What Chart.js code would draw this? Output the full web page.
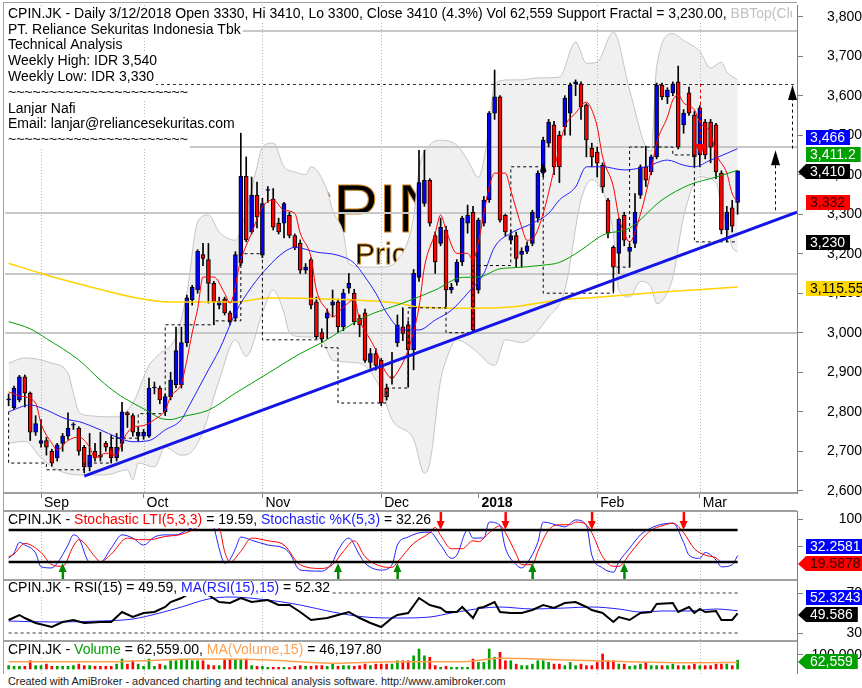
<!DOCTYPE html>
<html>
<head>
<meta charset="utf-8">
<title>CPIN.JK Daily</title>
<script src="https://cdn.jsdelivr.net/npm/chart.js@4.4.1/dist/chart.umd.min.js"></script>
<style>
  html, body { margin: 0; padding: 0; background: #fff; }
  #wrap { position: relative; width: 862px; height: 688px; overflow: hidden; background: #fff; }
  #wrap canvas { position: absolute; left: 0; }
  #foot { position: absolute; left: 8px; top: 675px; font: 10.9px "Liberation Sans", Arial, sans-serif; color: #222; white-space: nowrap; }
</style>
</head>
<body>
<div id="wrap">
  <canvas id="cMain" width="862" height="510" style="top:0;width:862px;height:510px"></canvas>
  <canvas id="cSto" width="862" height="69" style="top:510px;width:862px;height:69px"></canvas>
  <canvas id="cRsi" width="862" height="61" style="top:579px;width:862px;height:61px"></canvas>
  <canvas id="cVol" width="862" height="34" style="top:640px;width:862px;height:34px"></canvas>
  <div id="foot">Created with AmiBroker - advanced charting and technical analysis software. http://www.amibroker.com</div>
</div>
<script>
const FONT = '"Liberation Sans", Arial, sans-serif';
Chart.defaults.font.family = FONT;

// daily bars, 24 Aug 2017 .. 12 Mar 2018 (bar index 0..135)
const opens = [
  2830,2810,2830,2888,2847,2748,2720,2727,2700,2683,
  2720,2738,2766,2758,2710,2660,2700,2690,2720,2710,
  2683,2720,2798,2790,2738,2738,2738,2860,2860,2800,
  2838,2868,2868,2975,3083,3108,3198,3185,3125,3070,
  3085,3050,3037,3176,3396,3255,3348,3196,3360,3338,
  3277,3277,3297,3246,3226,3158,3185,3078,3000,3037,
  3070,3078,3015,3113,3100,3037,3050,2925,2947,2930,
  2860,2885,2975,3015,3020,2957,3140,3327,3386,3246,
  3226,3260,3108,3128,3179,3277,3305,3108,3277,3336,
  3556,3597,3297,3234,3246,3198,3206,3226,3290,3404,
  3480,3526,3500,3521,3556,3630,3630,3577,3467,3457,
  3424,3336,3216,3201,3297,3206,3226,3348,3420,3407,
  3445,3627,3597,3607,3635,3526,3607,3551,3450,3533,
  3533,3526,3404,3260,3316,3330];
const highs = [
  2845,2865,2892,2893,2850,2790,2780,2735,2705,2720,
  2745,2797,2772,2762,2715,2745,2720,2748,2725,2740,
  2745,2824,2800,2795,2760,2755,2885,2875,2865,2845,
  2900,3014,3014,3095,3120,3210,3226,3226,3130,3090,
  3090,3055,3205,3505,3445,3394,3381,3340,3370,3365,
  3290,3330,3305,3250,3235,3175,3190,3090,3010,3060,
  3108,3085,3110,3150,3110,3045,3060,2960,2960,2935,
  2870,2950,3045,3063,3030,3160,3462,3462,3390,3255,
  3290,3270,3125,3185,3295,3323,3320,3290,3345,3560,
  3665,3600,3300,3260,3255,3215,3230,3310,3410,3495,
  3540,3535,3510,3600,3632,3640,3635,3580,3480,3470,
  3430,3340,3220,3290,3305,3225,3352,3425,3472,3450,
  3632,3632,3620,3635,3675,3565,3622,3560,3575,3540,
  3540,3530,3410,3320,3335,3410];
const lows = [
  2815,2805,2825,2812,2727,2740,2710,2690,2662,2675,
  2700,2730,2755,2690,2645,2650,2675,2675,2700,2670,
  2675,2700,2760,2738,2725,2730,2735,2845,2820,2790,
  2830,2860,2860,2965,3070,3100,3170,3075,3020,3060,
  3045,3020,3030,3170,3230,3250,3265,3190,3330,3260,
  3250,3240,3240,3210,3150,3150,3060,2985,2975,2985,
  3040,3000,3005,3100,3020,2990,2925,2910,2905,2815,
  2830,2870,2965,2980,2862,2906,3130,3320,3270,3150,
  3220,3065,3100,3120,3170,3252,3000,3100,3270,3330,
  3540,3280,3245,3225,3166,3166,3200,3220,3280,3395,
  3470,3400,3380,3500,3500,3600,3540,3445,3420,3394,
  3355,3240,3105,3150,3220,3166,3215,3340,3370,3400,
  3440,3590,3580,3600,3465,3505,3550,3420,3420,3440,
  3430,3390,3250,3230,3255,3300];
const closes = [
  2832,2860,2888,2847,2748,2770,2727,2710,2670,2716,
  2738,2758,2768,2700,2660,2690,2683,2685,2710,2683,
  2710,2800,2792,2748,2748,2748,2860,2862,2830,2838,
  2880,2955,2975,3088,3115,3206,3188,3125,3078,3080,
  3050,3027,3198,3396,3235,3348,3293,3327,3362,3267,
  3255,3327,3246,3216,3158,3166,3070,2990,2985,3050,
  3078,3015,3100,3125,3027,3020,2930,2947,2917,2822,
  2838,2888,3020,2998,2957,3150,3380,3386,3277,3179,
  3267,3108,3115,3179,3290,3297,3007,3285,3336,3556,
  3597,3285,3255,3246,3188,3206,3220,3305,3404,3487,
  3533,3420,3420,3594,3627,3635,3572,3488,3445,3429,
  3369,3252,3166,3287,3234,3216,3305,3420,3386,3445,
  3627,3597,3614,3630,3470,3556,3556,3445,3569,3450,
  3470,3407,3260,3305,3270,3410];
const volumes = [
  24000,19000,19000,19000,59000,24000,24000,35000,19000,19000,
  19000,19000,24000,35000,24000,24000,19000,19000,19000,19000,
  35000,71000,35000,59000,35000,19000,71000,19000,35000,24000,
  59000,59000,71000,71000,59000,59000,59000,29000,24000,24000,
  71000,71000,71000,71000,71000,24000,19000,19000,12000,12000,
  12000,12000,10000,19000,24000,19000,19000,24000,24000,19000,
  35000,19000,24000,24000,19000,24000,35000,24000,35000,35000,
  35000,35000,59000,59000,59000,94000,143000,94000,84000,24000,
  12000,19000,12000,12000,12000,12000,71000,47000,47000,143000,
  84000,119000,59000,59000,35000,24000,24000,35000,59000,59000,
  47000,35000,35000,24000,47000,24000,35000,24000,24000,47000,
  107000,59000,59000,35000,35000,19000,24000,35000,47000,24000,
  24000,24000,24000,35000,24000,24000,24000,35000,24000,24000,
  24000,35000,35000,35000,24000,62559];

// month ticks (bar index of first trading day)
const tickIdx = [6, 25, 47, 69, 87, 109, 128];
const tickLbl = ['Sep', 'Oct', 'Nov', 'Dec', '2018', 'Feb', 'Mar'];
const monthLineIdx = [6, 25, 47, 69, 109, 128];
const priceTicks = [2600, 2700, 2800, 2900, 3000, 3100, 3200, 3300, 3400, 3500, 3600, 3700, 3800];

// indicator lines, [bar index, value]
const bbUpper = [[0,2923],[3,2936],[8,2923],[11,2897],[12,2847],[13,2800],[15,2790],[20,2787],[23,2822],[26,2917],
  [28,2947],[31,2990],[33,3100],[35,3280],[37,3298],[39,3255],[42,3234],[44,3310],[46,3420],[47,3470],[49,3480],
  [51,3420],[53,3407],[55,3400],[56,3420],[59,3360],[60,3310],[62,3252],[63,3175],[66,3166],[69,3166],[72,3184],
  [75,3293],[76,3412],[78,3475],[80,3487],[83,3475],[85,3437],[87,3394],[89,3521],[90,3631],[93,3640],[95,3640],
  [98,3645],[102,3647],[105,3736],[107,3682],[109,3685],[112,3761],[115,3614],[118,3470],[119,3460],[120,3673],
  [123,3757],[125,3740],[128,3712],[130,3670],[132,3685],[133,3660],[135,3640]];
const bbLower = [[0,2720],[3,2725],[6,2683],[9,2653],[13,2640],[18,2640],[22,2653],[23,2627],[24,2670],[27,2660],
  [29,2710],[32,2690],[34,2700],[36,2750],[39,2880],[42,2982],[44,2940],[47,3050],[49,3108],[51,3050],[52,3000],
  [54,2990],[58,2982],[60,2930],[65,2923],[69,2855],[71,2780],[75,2730],[77,2644],[78,2670],[80,2880],[81,2930],
  [83,2982],[86,2960],[90,2917],[92,2982],[95,2975],[100,3040],[103,3108],[106,3336],[108,3387],[109,3380],
  [112,3250],[113,3108],[115,3090],[117,3130],[119,3115],[120,3074],[121,3080],[123,3140],[125,3293],[128,3394],
  [131,3380],[132,3320],[133,3270],[134,3217],[135,3204]];
const ma200 = [[0,3176],[6,3150],[14,3120],[23,3090],[30,3078],[42,3078],[48,3088],[60,3085],[72,3075],[76,3065],
  [85,3062],[93,3065],[102,3083],[109,3090],[121,3103],[135,3115.55]];
const ma50 = [[0,3028],[4,3010],[7,2985],[13,2931],[17,2880],[20,2847],[23,2822],[26,2800],[28,2784],[30,2780],
  [32,2787],[37,2804],[42,2847],[48,2897],[54,2947],[58,2975],[66,3040],[73,3075],[79,3108],[84,3140],[87,3141],
  [91,3162],[93,3164],[99,3171],[102,3178],[106,3209],[110,3247],[115,3265],[121,3336],[126,3374],[131,3394],[135,3411.2]];
const ma20 = [[0,2800],[4,2817],[6,2810],[11,2780],[13,2775],[17,2754],[20,2736],[23,2724],[26,2727],[29,2754],
  [32,2780],[33,2804],[37,2906],[39,2956],[42,3050],[45,3116],[48,3166],[51,3204],[53,3216],[57,3204],[61,3196],
  [64,3176],[66,3141],[68,3100],[70,3050],[73,3007],[76,3007],[79,3032],[82,3057],[85,3100],[88,3150],[90,3217],
  [93,3252],[97,3277],[100,3302],[102,3336],[105,3369],[107,3420],[110,3420],[114,3412],[118,3420],[122,3437],
  [125,3424],[127,3420],[130,3437],[133,3454],[135,3466]];
const ma3 = [[0,2850],[2,2840],[5,2822],[6,2770],[8,2720],[9,2703],[11,2727],[13,2736],[15,2710],[16,2683],
  [18,2695],[20,2690],[21,2724],[23,2760],[25,2765],[27,2780],[29,2804],[30,2838],[32,2872],[33,2930],[34,3000],
  [35,3060],[36,3141],[38,3141],[40,3100],[41,3075],[43,3184],[45,3252],[47,3318],[49,3336],[51,3310],[53,3302],
  [54,3252],[56,3191],[57,3108],[59,3057],[60,3040],[62,3065],[64,3083],[65,3032],[67,2982],[68,2956],[69,2922],
  [71,2885],[72,2900],[74,2957],[76,3065],[77,3166],[79,3252],[80,3298],[81,3260],[83,3201],[85,3201],[86,3184],
  [87,3230],[88,3300],[89,3370],[90,3404],[92,3404],[93,3360],[95,3268],[96,3234],[97,3237],[99,3302],[101,3412],
  [103,3521],[105,3556],[107,3584],[108,3564],[109,3521],[110,3445],[112,3369],[113,3293],[114,3252],[115,3230],
  [117,3300],[118,3352],[119,3412],[120,3480],[122,3546],[123,3589],[124,3602],[125,3582],[127,3564],[128,3533],
  [130,3505],[131,3454],[133,3404],[134,3352],[135,3332]];
const supportSteps = [[0,2800],[7,2670],[14,2653],[19,2670],[24,2733],[29,2795],[38,3020],[43,3030],[47,3200],
  [58,2982],[61,2962],[70,2822],[74,2860],[81,3063],[86,3000],[93,3170],[99,3420],[112,3100],[115,3166],
  [123,3470],[127,3450],[132,3230]];
const trendLine = [[14, 2637], [146, 3305]];
const resistance = 3630;
const levels = [3765, 3470, 3303, 3149, 3000];
const targets = [[142, 3310, 3462], [145, 3466, 3627]];   // [bar, from, to]
const sellMark = [128, 3630, 3450];
const buyMark = [99, 3430];

// sub panes
const stochK = [[0,27],[1,37],[2,57],[3,52],[5,37],[6,11],[8,9],[9,18],[11,52],[12,71],[13,65],[15,20],[17,20],
  [19,46],[21,71],[23,65],[25,52],[27,67],[29,71],[31,71],[33,80],[35,89],[37,97],[38,85],[39,45],[40,18],[41,25],
  [42,45],[43,67],[45,61],[48,52],[51,46],[52,37],[54,5],[58,3],[60,20],[61,42],[63,65],[65,33],[66,18],[69,5],
  [71,15],[72,52],[74,67],[77,76],[78,76],[80,52],[82,27],[83,33],[85,80],[86,65],[88,65],[89,95],[91,89],[92,46],
  [94,15],[95,9],[96,18],[98,57],[99,95],[102,88],[103,86],[105,99],[107,89],[108,33],[110,9],[112,1],[113,20],
  [115,46],[117,71],[119,84],[121,91],[123,93],[125,57],[126,33],[128,27],[129,38],[131,24],[132,11],[134,15],[135,32.2581]];
const stochLti = [[0,30],[1,35],[3,55],[6,38],[8,15],[10,12],[12,50],[13,62],[16,30],[17,20],[19,35],[22,65],[24,62],
  [26,62],[29,68],[32,72],[34,80],[37,95],[39,85],[40,40],[41,20],[43,40],[45,65],[48,60],[51,52],[54,15],[58,8],
  [60,15],[62,40],[64,60],[66,30],[69,12],[71,10],[72,20],[75,55],[78,75],[79,85],[80,70],[82,45],[84,45],[86,60],
  [87,58],[89,75],[91,88],[92,75],[94,35],[95,15],[97,15],[98,40],[100,80],[102,90],[104,90],[105,95],[107,90],
  [108,75],[110,30],[112,12],[113,12],[115,35],[117,60],[119,80],[121,88],[123,93],[125,75],[127,45],[129,33],
  [131,28],[132,20],[135,19.5878]];
const buyIdx = [10, 61, 72, 97, 114];
const sellIdx = [39, 80, 92, 108, 125];
const rsi = [[0,43],[2,48],[3,45],[5,40],[8,36],[10,41],[12,43],[14,40],[17,41],[19,41],[21,51],[23,46],[25,50],
  [27,51],[29,56],[30,61],[32,65],[34,71],[35,74],[36,73],[37,68],[39,61],[41,60],[43,65],[45,61],[48,63],[50,58],
  [52,58],[54,51],[56,43],[59,45],[61,48],[63,51],[65,45],[67,40],[69,36],[71,45],[72,48],[74,50],[76,65],[78,58],
  [80,55],[81,51],[83,51],[84,56],[86,45],[87,55],[88,56],[90,61],[91,51],[93,50],[95,50],[97,53],[99,58],[101,55],
  [103,60],[105,61],[107,56],[108,53],[110,50],[112,41],[113,46],[115,43],[117,50],[119,51],[120,59],[123,60],
  [124,51],[126,56],[127,50],[128,54],[129,51],[131,52],[132,43],[134,43],[135,49.586]];
const rsiMa = [[0,42],[8,41],[17,42],[23,44],[28,50],[32,56],[37,64],[41,66],[48,63],[54,58],[60,51],[66,46],
  [72,45],[78,46],[82,50],[88,55],[91,56],[97,54],[103,55],[108,56],[113,54],[117,51],[121,52],[126,52],[131,54],[135,52.3243]];
const volMa = [[0,52000],[17,52000],[36,71000],[48,64000],[60,41000],[72,52000],[84,52000],[91,76000],[103,64000],
  [115,52000],[127,45000],[135,46197.8]];

const X_MIN = -0.67, X_MAX = 146;
const last = a => a[a.length - 1];
const pts = a => a.map(p => ({ x: p[0], y: p[1] }));
const fmt = (v, d) => v.toLocaleString('en-US', { minimumFractionDigits: d || 0, maximumFractionDigits: d === undefined ? 2 : d });
const N = closes.length;
const bars = closes.map((c, i) => i);
const up = i => closes[i] >= opens[i];

function monthLines(chart) {
  const { ctx, chartArea: a, scales: { x } } = chart;
  ctx.save();
  ctx.strokeStyle = '#b4b4b4'; ctx.lineWidth = 1; ctx.setLineDash([1, 2]);
  monthLineIdx.forEach(i => {
    const px = Math.round(x.getPixelForValue(i)) + 0.5;
    ctx.beginPath(); ctx.moveTo(px, a.top); ctx.lineTo(px, a.bottom); ctx.stroke();
  });
  ctx.restore();
}

function textLine(ctx, parts, x, y, maxX) {
  ctx.save();
  ctx.font = '14px ' + FONT; ctx.textBaseline = 'middle'; ctx.textAlign = 'left';
  const w = parts.reduce((s, p) => s + ctx.measureText(p[0]).width, 0);
  if (maxX) { ctx.beginPath(); ctx.rect(0, y - 9, maxX, 18); ctx.clip(); }
  ctx.fillStyle = '#fff'; ctx.fillRect(x - 3, y - 8, w + 5, 16);
  let cx = x;
  parts.forEach(p => { ctx.fillStyle = p[1]; ctx.fillText(p[0], cx, y); cx += ctx.measureText(p[0]).width; });
  ctx.restore();
}

function drawTags(chart, tags) {
  const { ctx, scales: { y } } = chart;
  const items = tags.map(t => Object.assign({}, t, { py: y.getPixelForValue(t.val) + 1.5 }));
  items.sort((a, b) => b.py - a.py);
  for (let k = 1; k < items.length; k++) items[k].py = Math.min(items[k].py, items[k - 1].py - 17);
  ctx.save();
  ctx.font = '14px ' + FONT; ctx.textBaseline = 'middle'; ctx.textAlign = 'left';
  items.forEach(t => {
    const w = ctx.measureText(t.text).width;
    const x1 = Math.min(862, 810 + w + 5), yc = Math.round(t.py);
    ctx.fillStyle = t.bg; ctx.beginPath();
    if (t.arrow) {
      ctx.moveTo(798, yc); ctx.lineTo(806, yc - 8); ctx.lineTo(x1, yc - 8);
      ctx.lineTo(x1, yc + 7); ctx.lineTo(806, yc + 7); ctx.closePath();
    } else ctx.rect(806, yc - 8, x1 - 806, 15);
    ctx.fill();
    ctx.fillStyle = t.fg; ctx.fillText(t.text, 810, yc);
  });
  ctx.restore();
}

function paneFrame(chart, top) {
  const { ctx, chartArea: a } = chart;
  ctx.save(); ctx.strokeStyle = '#a0a0a0';
  if (top !== null) { ctx.lineWidth = 2; ctx.beginPath(); ctx.moveTo(3, top); ctx.lineTo(a.right, top); ctx.stroke(); }
  ctx.lineWidth = 1; ctx.beginPath(); ctx.moveTo(3.5, top === null ? 2 : 0); ctx.lineTo(3.5, chart.height); ctx.stroke();
  ctx.restore();
}

function tri(ctx, x, yTip, w, h, color, down) {
  ctx.fillStyle = color; ctx.beginPath();
  const yb = down ? yTip - h : yTip + h;
  ctx.moveTo(x, yTip); ctx.lineTo(x + w / 2, yb); ctx.lineTo(x - w / 2, yb); ctx.closePath(); ctx.fill();
}

// right value axis; label overflow padding is removed so the plot keeps its exact box
function yAxis(min, max, ticks, cb, pad) {
  return {
    type: 'linear', position: 'right', min: min, max: max, beginAtZero: false,
    afterFit: s => { s.width = 65; s.paddingTop = 0; s.paddingBottom = 0; },
    afterBuildTicks: s => { s.ticks = ticks.map(v => ({ value: v })); },
    grid: { drawOnChartArea: false, drawTicks: true, tickLength: 6, color: '#808080' },
    border: { display: true, color: '#808080', width: 1 },
    ticks: { crossAlign: 'far', padding: pad, color: '#000', font: { family: FONT, size: 14 }, callback: cb }
  };
}
const hiddenX = { type: 'linear', min: X_MIN, max: X_MAX, offset: false, display: false };
const baseOpts = { responsive: false, animation: false, events: [],
  plugins: { legend: { display: false }, tooltip: { enabled: false } } };

// ---------- main price pane ----------
const mainDeco = {
  id: 'mainDeco',
  beforeDatasetsDraw(chart) {
    const { ctx, chartArea: a } = chart;
    ctx.save();
    ctx.beginPath(); ctx.rect(a.left, a.top, a.right - a.left, a.bottom - a.top); ctx.clip();
    ctx.textAlign = 'left'; ctx.textBaseline = 'alphabetic';
    ctx.fillStyle = '#000'; ctx.strokeStyle = '#c8821e'; ctx.lineWidth = 1;
    ctx.font = '68px ' + FONT;
    const wx = 333 - ctx.measureText('C').width;
    ctx.fillText('CPIN', wx, 232); ctx.strokeText('CPIN', wx, 232);
    ctx.font = '30px ' + FONT; ctx.fillText('Price', 355, 264); ctx.strokeText('Price', 355, 264);
    ctx.restore();
  },
  afterDatasetDraw(chart, args) {
    if (args.index !== 1) return;
    const { ctx, chartArea: a, scales: { y } } = chart;
    monthLines(chart);
    ctx.save();
    ctx.strokeStyle = '#c8c8c8'; ctx.lineWidth = 2;
    levels.forEach(v => {
      const py = Math.round(y.getPixelForValue(v));
      ctx.beginPath(); ctx.moveTo(a.left, py); ctx.lineTo(a.right, py); ctx.stroke();
    });
    ctx.strokeStyle = '#333'; ctx.lineWidth = 1; ctx.setLineDash([3, 3]);
    const py = Math.round(y.getPixelForValue(resistance)) + 0.5;
    ctx.beginPath(); ctx.moveTo(a.left, py); ctx.lineTo(a.right, py); ctx.stroke();
    ctx.restore();
  },
  afterDatasetsDraw(chart) {
    const { ctx, scales: { x, y } } = chart;
    ctx.save();
    ctx.lineWidth = 1;
    targets.forEach(t => {
      const px = Math.round(x.getPixelForValue(t[0])) + 0.5;
      const y0 = y.getPixelForValue(t[1]), y1 = y.getPixelForValue(t[2]);
      ctx.strokeStyle = '#000'; ctx.setLineDash([3, 3]);
      ctx.beginPath(); ctx.moveTo(px, y0); ctx.lineTo(px, y1 + 12); ctx.stroke();
      ctx.setLineDash([]);
      tri(ctx, px, y1, 9, 15, '#000', false);
    });
    const sx = Math.round(x.getPixelForValue(sellMark[0])) + 0.5;
    ctx.strokeStyle = '#ff0000'; ctx.setLineDash([3, 3]);
    ctx.beginPath(); ctx.moveTo(sx, y.getPixelForValue(sellMark[1])); ctx.lineTo(sx, y.getPixelForValue(sellMark[2])); ctx.stroke();
    ctx.setLineDash([]);
    tri(ctx, sx, y.getPixelForValue(sellMark[2]), 11, 11, '#ff0000', true);
    tri(ctx, x.getPixelForValue(buyMark[0]), y.getPixelForValue(buyMark[1]), 7, 9, '#000', false);
    ctx.restore();
  },
  afterDraw(chart) {
    const { ctx } = chart;
    const o = opens[N - 1], h = highs[N - 1], l = lows[N - 1], c = closes[N - 1];
    const pct = ((c - closes[N - 2]) / closes[N - 2] * 100).toFixed(1);
    textLine(ctx, [
      ['CPIN.JK - Daily 3/12/2018 Open ' + o + ', Hi ' + h + ', Lo ' + l + ', Close ' + c + ' (' + pct + '%) Vol ' +
        fmt(volumes[N - 1]) + ' Support Fractal = ' + fmt(last(supportSteps)[1], 2) + ', ', '#000'],
      ['BBTop(Close,20,2) = ' + fmt(last(bbUpper)[1], 2), '#c0c0c0']], 8, 14, 792);
    const info = ['PT. Reliance Sekuritas Indonesia Tbk', 'Technical Analysis', 'Weekly High: IDR 3,540',
      'Weekly Low: IDR 3,330', '~~~~~~~~~~~~~~~~~~~~~~', 'Lanjar Nafi', 'Email: lanjar@reliancesekuritas.com',
      '~~~~~~~~~~~~~~~~~~~~~~'];
    info.forEach((t, k) => textLine(ctx, [[t, '#000']], 8, 14 + 15.8 * (k + 1)));
    drawTags(chart, [
      { val: last(ma20)[1], text: fmt(last(ma20)[1]), bg: '#0000ff', fg: '#fff' },
      { val: last(ma50)[1], text: fmt(last(ma50)[1]), bg: '#00a000', fg: '#fff' },
      { val: c, text: fmt(c), bg: '#000', fg: '#fff', arrow: true },
      { val: last(ma3)[1], text: fmt(last(ma3)[1]), bg: '#ff0000', fg: '#400000' },
      { val: last(supportSteps)[1], text: fmt(last(supportSteps)[1]), bg: '#000', fg: '#fff' },
      { val: last(ma200)[1], text: fmt(last(ma200)[1]), bg: '#ffd700', fg: '#000' }]);
    ctx.save(); ctx.strokeStyle = '#a0a0a0'; ctx.lineWidth = 1;
    ctx.beginPath(); ctx.moveTo(3, 2.5); ctx.lineTo(chart.chartArea.right, 2.5); ctx.stroke();
    ctx.restore();
    paneFrame(chart, null);
  }
};

const lineDs = (data, color, width, order, extra) => Object.assign({
  type: 'line', data: pts(data), borderColor: color, borderWidth: width, pointRadius: 0,
  fill: false, cubicInterpolationMode: 'monotone', order: order }, extra || {});

new Chart(document.getElementById('cMain'), {
  type: 'bar',
  data: { datasets: [
    lineDs(bbUpper, '#c4c4c4', 1, 100, { fill: '+1', backgroundColor: '#f0f0f0' }),
    lineDs(bbLower, '#c4c4c4', 1, 99),
    { type: 'bar', data: bars.map(i => ({ x: i, y: [lows[i], highs[i]] })), backgroundColor: '#000',
      barThickness: 1, grouped: false, order: 80 },
    { type: 'bar', data: bars.map(i => ({ x: i, y: [opens[i], closes[i]] })),
      backgroundColor: bars.map(i => up(i) ? '#0000ff' : '#ff0000'), borderColor: '#000', borderWidth: 1,
      borderSkipped: false, barThickness: 4, grouped: false, minBarLength: 1, order: 79 },
    lineDs(ma200, '#ffd200', 1.5, 60),
    lineDs(ma50, '#00a000', 1, 59),
    lineDs(ma20, '#2020ff', 1, 58),
    { type: 'line', data: pts(supportSteps.concat([[N - 1, last(supportSteps)[1]]])), borderColor: '#000',
      borderWidth: 1, borderDash: [3, 3], stepped: 'after', pointRadius: 0, fill: false, order: 57 },
    lineDs(ma3, '#ff0000', 1, 56),
    lineDs(trendLine, '#1414e6', 3, 10, { cubicInterpolationMode: 'default' })
  ] },
  options: Object.assign({}, baseOpts, {
    layout: { autoPadding: false, padding: { left: 5, top: 5, right: 0, bottom: 0 } },
    scales: {
      x: { type: 'linear', min: X_MIN, max: X_MAX, offset: false,
        afterFit: s => { s.height = 17; s.paddingLeft = 0; s.paddingRight = 0; },
        afterBuildTicks: s => { s.ticks = tickIdx.map(v => ({ value: v })); },
        grid: { drawOnChartArea: false, drawTicks: true, tickLength: 5, color: '#808080', offset: false },
        border: { display: true, color: '#a0a0a0', width: 2 },
        ticks: { align: 'start', labelOffset: 3, padding: -3, autoSkip: false, maxRotation: 0, color: '#000',
          font: c => ({ family: FONT, size: 14, weight: (c.tick && c.tick.value === 87) ? 'bold' : 'normal' }),
          callback: v => tickLbl[tickIdx.indexOf(v)] } },
      y: yAxis(2594.2, 3829.6, priceTicks, v => fmt(v), 23)
    }
  }),
  plugins: [mainDeco]
});

// ---------- stochastic pane ----------
new Chart(document.getElementById('cSto'), {
  type: 'line',
  data: { datasets: [
    lineDs([[0, 80], [N - 1, 80]], '#000', 2.5, 1),
    lineDs([[0, 20], [N - 1, 20]], '#000', 2.5, 1),
    lineDs(stochLti, '#ff0000', 1, 3),
    lineDs(stochK, '#2020ff', 1, 4)
  ] },
  options: Object.assign({}, baseOpts, {
    layout: { autoPadding: false, padding: { left: 5, top: 1, right: 0, bottom: 1 } },
    scales: { x: hiddenX, y: yAxis(-9.9, 115.8, [50, 100], v => String(v), 33) }
  }),
  plugins: [{
    id: 'stoDeco',
    beforeDatasetsDraw: monthLines,
    afterDatasetsDraw(chart) {
      const { ctx, scales: { x, y } } = chart;
      ctx.save();
      sellIdx.forEach(i => {
        const px = x.getPixelForValue(i), tip = y.getPixelForValue(80);
        ctx.fillStyle = '#ff0000'; ctx.fillRect(px - 1, tip - 18, 2.5, 10);
        tri(ctx, px, tip, 8, 9, '#ff0000', true);
      });
      buyIdx.forEach(i => {
        const px = x.getPixelForValue(i), tip = y.getPixelForValue(20) + 1;
        ctx.fillStyle = '#008800'; ctx.fillRect(px - 1, tip + 8, 2.5, 8);
        tri(ctx, px, tip, 8, 9, '#008800', false);
      });
      ctx.restore();
    },
    afterDraw(chart) {
      const k = last(stochK)[1], d = last(stochLti)[1];
      textLine(chart.ctx, [['CPIN.JK - ', '#000'], ['Stochastic LTI(5,3,3)', '#ff0000'], [' = ' + d.toFixed(2) + ', ', '#000'],
        ['Stochastic %K(5,3)', '#2020ff'], [' = ' + k.toFixed(2), '#000']], 8, 10);
      drawTags(chart, [
        { val: k, text: String(k), bg: '#0000ff', fg: '#fff' },
        { val: d, text: String(d), bg: '#ff0000', fg: '#400000', arrow: true }]);
      paneFrame(chart, 1);
    }
  }]
});

// ---------- RSI pane ----------
new Chart(document.getElementById('cRsi'), {
  type: 'line',
  data: { datasets: [
    lineDs([[0, 70], [N - 1, 70]], '#333', 1, 5, { borderDash: [3, 3] }),
    lineDs([[0, 30], [N - 1, 30]], '#333', 1, 5, { borderDash: [3, 3] }),
    lineDs(rsiMa, '#2020ff', 1, 3),
    lineDs(rsi, '#000', 2, 2, { cubicInterpolationMode: 'default' })
  ] },
  options: Object.assign({}, baseOpts, {
    layout: { autoPadding: false, padding: { left: 5, top: 0, right: 0, bottom: 0 } },
    scales: { x: hiddenX, y: yAxis(23, 84, [30, 70], v => String(v), 40) }
  }),
  plugins: [{
    id: 'rsiDeco',
    beforeDatasetsDraw: monthLines,
    afterDraw(chart) {
      const r = last(rsi)[1], m = last(rsiMa)[1];
      textLine(chart.ctx, [['CPIN.JK - RSI(15) = ' + r.toFixed(2) + ', ', '#000'], ['MA(RSI(15),15)', '#2020ff'],
        [' = ' + m.toFixed(2), '#000']], 8, 9);
      drawTags(chart, [
        { val: m, text: String(m), bg: '#0000ff', fg: '#fff' },
        { val: r, text: String(r), bg: '#000', fg: '#fff', arrow: true }]);
      paneFrame(chart, 1);
    }
  }]
});

// ---------- volume pane ----------
new Chart(document.getElementById('cVol'), {
  type: 'bar',
  data: { datasets: [
    { type: 'bar', data: bars.map(i => ({ x: i, y: volumes[i] })),
      backgroundColor: bars.map(i => up(i) ? '#00a000' : '#ff0000'), barThickness: 2, grouped: false, order: 3 },
    lineDs(volMa, '#ffa050', 1.5, 2)
  ] },
  options: Object.assign({}, baseOpts, {
    layout: { autoPadding: false, padding: { left: 5, top: 0, right: 0, bottom: 0 } },
    scales: { x: hiddenX, y: yAxis(-35700, 207000, [100000], v => fmt(v), 6) }
  }),
  plugins: [{
    id: 'volDeco',
    beforeDatasetsDraw: monthLines,
    afterDraw(chart) {
      const v = volumes[N - 1], m = last(volMa)[1];
      textLine(chart.ctx, [['CPIN.JK - ', '#000'], ['Volume', '#00a000'], [' = ' + fmt(v, 2) + ', ', '#000'],
        ['MA(Volume,15)', '#ffa050'], [' = ' + fmt(m, 2), '#000']], 8, 10);
      drawTags(chart, [{ val: v, text: fmt(v), bg: '#00a000', fg: '#fff', arrow: true }]);
      paneFrame(chart, 1);
    }
  }]
});
</script>
</body>
</html>
